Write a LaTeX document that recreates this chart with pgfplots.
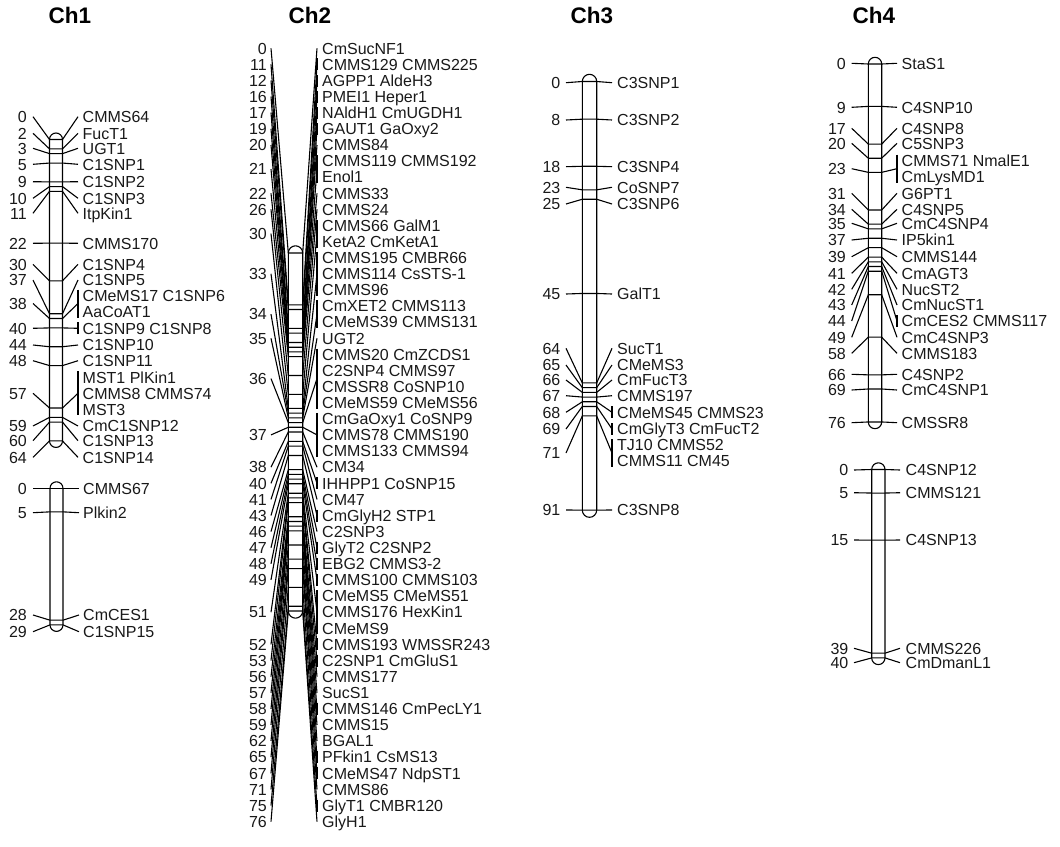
\documentclass[border=0pt]{standalone}
\usepackage{pgfplots}
\pgfplotsset{compat=1.18}
\usepackage{pgfplotstable}
\usepackage{fontspec}
\setmainfont{Liberation Sans}
\newcommand\lab{\fontsize{16}{16}\selectfont}

% ---------- Ch1 (upper group) ----------
\pgfplotstableread[col sep=comma]{
pos,ly,br
0,116.7,0
2,133.3,0
3,148.3,0
5,164.3,0
9,181.7,0
10,198.3,0
11,213.3,0
22,243.3,0
30,264.3,0
37,280,0
38,303.5,14
40,328.3,6
44,345,0
48,360.7,0
57,393.3,22
59,426,0
60,440.7,0
64,457.3,0
}\chAloci
\pgfplotstableread[col sep=comma]{
y,name
116.7,CMMS64
133.3,FucT1
148.3,UGT1
164.3,C1SNP1
181.7,C1SNP2
198.3,C1SNP3
213.3,ItpKin1
243.3,CMMS170
264.3,C1SNP4
280,C1SNP5
295.5,CMeMS17 C1SNP6
311.5,AaCoAT1
328.3,C1SNP9 C1SNP8
345,C1SNP10
360.7,C1SNP11
377.3,MST1 PlKin1
393.3,CMMS8 CMMS74
409.3,MST3
426,CmC1SNP12
440.7,C1SNP13
457.3,C1SNP14
}\chAnames
% ---------- Ch1 (lower group) ----------
\pgfplotstableread[col sep=comma]{
pos,ly,br
0,488.3,0
5,512.7,0
28,615,0
29,631.7,0
}\chBloci
\pgfplotstableread[col sep=comma]{
y,name
488.3,CMMS67
512.7,Plkin2
615,CmCES1
631.7,C1SNP15
}\chBnames
% ---------- Ch2 ----------
\pgfplotstableread[col sep=comma]{
pos,ly,br
0,48.3,0
11,64.4,6
12,80.5,6
16,96.6,6
17,112.7,6
19,128.9,6
20,145.0,0
21,169.2,14
22,193.3,0
26,209.4,0
30,233.6,14
33,273.8,22
34,314.2,14
35,338.3,0
36,378.6,30
37,434.9,22
38,467.2,0
40,483.3,6
41,499.4,0
43,515.5,6
46,531.6,0
47,547.7,6
48,563.8,6
49,579.9,6
51,612.2,22
52,644.4,6
53,660.5,6
56,676.6,0
57,692.7,0
58,708.8,6
59,724.9,0
62,741.0,0
65,757.1,6
67,773.3,6
71,789.4,0
75,805.5,6
76,821.6,0
}\chCloci
\pgfplotstableread[col sep=comma]{
y,name
48.3,CmSucNF1
64.4,CMMS129 CMMS225
80.5,AGPP1 AldeH3
96.6,PMEI1 Heper1
112.7,NAldH1 CmUGDH1
128.9,GAUT1 GaOxy2
145.0,CMMS84
161.1,CMMS119 CMMS192
177.2,Enol1
193.3,CMMS33
209.4,CMMS24
225.5,CMMS66 GalM1
241.6,KetA2 CmKetA1
257.7,CMMS195 CMBR66
273.8,CMMS114 CsSTS-1
289.9,CMMS96
306.1,CmXET2 CMMS113
322.2,CMeMS39 CMMS131
338.3,UGT2
354.4,CMMS20 CmZCDS1
370.5,C2SNP4 CMMS97
386.6,CMSSR8 CoSNP10
402.7,CMeMS59 CMeMS56
418.8,CmGaOxy1 CoSNP9
434.9,CMMS78 CMMS190
451.1,CMMS133 CMMS94
467.2,CM34
483.3,IHHPP1 CoSNP15
499.4,CM47
515.5,CmGlyH2 STP1
531.6,C2SNP3
547.7,GlyT2 C2SNP2
563.8,EBG2 CMMS3-2
579.9,CMMS100 CMMS103
596.0,CMeMS5 CMeMS51
612.2,CMMS176 HexKin1
628.3,CMeMS9
644.4,CMMS193 WMSSR243
660.5,C2SNP1 CmGluS1
676.6,CMMS177
692.7,SucS1
708.8,CMMS146 CmPecLY1
724.9,CMMS15
741.0,BGAL1
757.1,PFkin1 CsMS13
773.3,CMeMS47 NdpST1
789.4,CMMS86
805.5,GlyT1 CMBR120
821.6,GlyH1
}\chCnames
% ---------- Ch3 ----------
\pgfplotstableread[col sep=comma]{
pos,ly,br
0,82.7,0
8,120,0
18,166.7,0
23,187.3,0
25,204,0
45,294,0
64,348.3,0
65,365,0
66,380,0
67,395.7,0
68,412.3,6
69,429,6
71,453,14
91,510,0
}\chDloci
\pgfplotstableread[col sep=comma]{
y,name
82.7,C3SNP1
120,C3SNP2
166.7,C3SNP4
187.3,CoSNP7
204,C3SNP6
294,GalT1
348.3,SucT1
365,CMeMS3
380,CmFucT3
395.7,CMMS197
412.3,CMeMS45 CMMS23
429,CmGlyT3 CmFucT2
445,TJ10 CMMS52
461,CMMS11 CM45
510,C3SNP8
}\chDnames
% ---------- Ch4 (upper group) ----------
\pgfplotstableread[col sep=comma]{
pos,ly,br
0,63.3,0
9,107.3,0
17,128.3,0
20,143.3,0
23,168.7,14
31,193.3,0
34,209.3,0
35,223.3,0
37,240,0
39,256.7,0
41,273.3,0
42,289.3,0
43,305,0
44,321,6
49,337.3,0
58,353.3,0
66,374.3,0
69,390,0
76,422.7,0
}\chEloci
\pgfplotstableread[col sep=comma]{
y,name
63.3,StaS1
107.3,C4SNP10
128.3,C4SNP8
143.3,C5SNP3
160.7,CMMS71 NmalE1
176.7,CmLysMD1
193.3,G6PT1
209.3,C4SNP5
223.3,CmC4SNP4
240,IP5kin1
256.7,CMMS144
273.3,CmAGT3
289.3,NucST2
305,CmNucST1
321,CmCES2 CMMS117
337.3,CmC4SNP3
353.3,CMMS183
374.3,C4SNP2
390,CmC4SNP1
422.7,CMSSR8
}\chEnames
% ---------- Ch4 (lower group) ----------
\pgfplotstableread[col sep=comma]{
pos,ly,br
0,470,0
5,492.7,0
15,540,0
39,648.3,0
40,662.7,0
}\chFloci
\pgfplotstableread[col sep=comma]{
y,name
470,C4SNP12
492.7,CMMS121
540,C4SNP13
648.3,CMMS226
662.7,CmDmanL1
}\chFnames
% ---------- titles ----------
\pgfplotstableread[col sep=comma]{
x,y,name
48.5,23,Ch1
288.5,23,Ch2
570.5,23,Ch3
852.5,23,Ch4
}\titles

\pgfplotsset{
  conn/.style={black, line width=1.1pt, mark=none},
  numlab/.style={draw=none, mark=none, nodes near coords, point meta=explicit symbolic,
    every node near coord/.append style={anchor=base east, inner sep=0pt, yshift=-5.7pt, font=\lab, text=black!90}},
  namelab/.style={draw=none, mark=none, nodes near coords, point meta=explicit symbolic,
    every node near coord/.append style={anchor=base west, inner sep=0pt, yshift=-5.7pt, font=\lab, text=black!90}},
}

% scale: 4.71 px per cM
\newcommand{\connectors}[6]{%
  \pgfplotstablegetrowsof{#1}%
  \pgfmathtruncatemacro{\nrowsm}{\pgfplotsretval-1}%
  \pgfplotsforeachungrouped \ii in {0,...,\nrowsm}{%
    \pgfplotstablegetelem{\ii}{pos}\of{#1}\let\cpos\pgfplotsretval
    \pgfplotstablegetelem{\ii}{ly}\of{#1}\let\cly\pgfplotsretval
    \pgfplotstablegetelem{\ii}{br}\of{#1}\let\cbr\pgfplotsretval
    \pgfmathsetmacro{\cpy}{#2+4.71*\cpos}%
    \edef\doit{\noexpand\addplot[conn] coordinates {(#3,\cly) (#4,\cpy) (#5,\cpy) (#6,\cly)};}%
    \doit
    \pgfmathsetmacro{\ctop}{\cly-\cbr}%
    \pgfmathsetmacro{\cbot}{\cly+\cbr}%
    \ifdim\cbr pt>0pt
      \edef\doit{\noexpand\addplot[conn] coordinates {(#6,\ctop) (#6,\cbot)};}%
      \doit
    \fi
  }%
}
% chromosome bar: left, right, y of 0 cM, length cM, cap radius
\newcommand{\chrom}[5]{%
  \pgfmathsetmacro{\btop}{#3-#5}%
  \pgfmathsetmacro{\bbot}{#3+4.71*#4+#5}%
  \pgfmathsetmacro{\bmid}{(\btop+\bbot)/2}%
  \edef\doit{\noexpand\addplot[conn, rounded corners=#5pt] coordinates {(#1,\bmid) (#1,\btop) (#2,\btop) (#2,\bbot) (#1,\bbot) (#1,\bmid)};}%
  \doit
}

\begin{document}
\begin{tikzpicture}
\begin{axis}[
  hide axis, x=1pt, y=1pt,
  xmin=0, xmax=1060, ymin=0, ymax=846, y dir=reverse,
  clip=false,
]
\addplot[draw=none] coordinates {(0,0) (1060,846)};

% titles
\addplot[draw=none, mark=none, nodes near coords, point meta=explicit symbolic,
  every node near coord/.append style={anchor=base west, inner sep=0pt, font=\fontsize{22.5}{24}\selectfont\bfseries}]
  table[x=x, y=y, meta=name]{\titles};

% Ch1
\chrom{49.5}{62.5}{139.5}{64}{6.5}
\connectors{\chAloci}{139.5}{33}{49.5}{62.5}{78}
\addplot[numlab] table[x expr=27, y=ly, meta=pos]{\chAloci};
\addplot[namelab] table[x expr=82.5, y=y, meta=name]{\chAnames};

\chrom{50}{63}{488.3}{29}{6.5}
\connectors{\chBloci}{488.3}{33}{50}{63}{79}
\addplot[numlab] table[x expr=27, y=ly, meta=pos]{\chBloci};
\addplot[namelab] table[x expr=83, y=y, meta=name]{\chBnames};

% Ch2
\chrom{288.3}{302.7}{253}{76}{7.2}
\connectors{\chCloci}{253}{271}{288.3}{302.7}{317}
\addplot[numlab] table[x expr=267, y=ly, meta=pos]{\chCloci};
\addplot[namelab] table[x expr=322, y=y, meta=name]{\chCnames};

% Ch3
\chrom{582.3}{596.7}{81.5}{91}{7.2}
\connectors{\chDloci}{81.5}{566}{582.3}{596.7}{612}
\addplot[numlab] table[x expr=560.5, y=ly, meta=pos]{\chDloci};
\addplot[namelab] table[x expr=617, y=y, meta=name]{\chDnames};

% Ch4
\chrom{868.3}{881.7}{64}{76}{6.7}
\connectors{\chEloci}{64}{851.7}{868.3}{881.7}{897}
\addplot[numlab] table[x expr=846, y=ly, meta=pos]{\chEloci};
\addplot[namelab] table[x expr=901.5, y=y, meta=name]{\chEnames};

\chrom{871.7}{885}{469.5}{40}{6.7}
\connectors{\chFloci}{469.5}{854}{871.7}{885}{900}
\addplot[numlab] table[x expr=848.5, y=ly, meta=pos]{\chFloci};
\addplot[namelab] table[x expr=905.5, y=y, meta=name]{\chFnames};
\end{axis}
\end{tikzpicture}
\end{document}
